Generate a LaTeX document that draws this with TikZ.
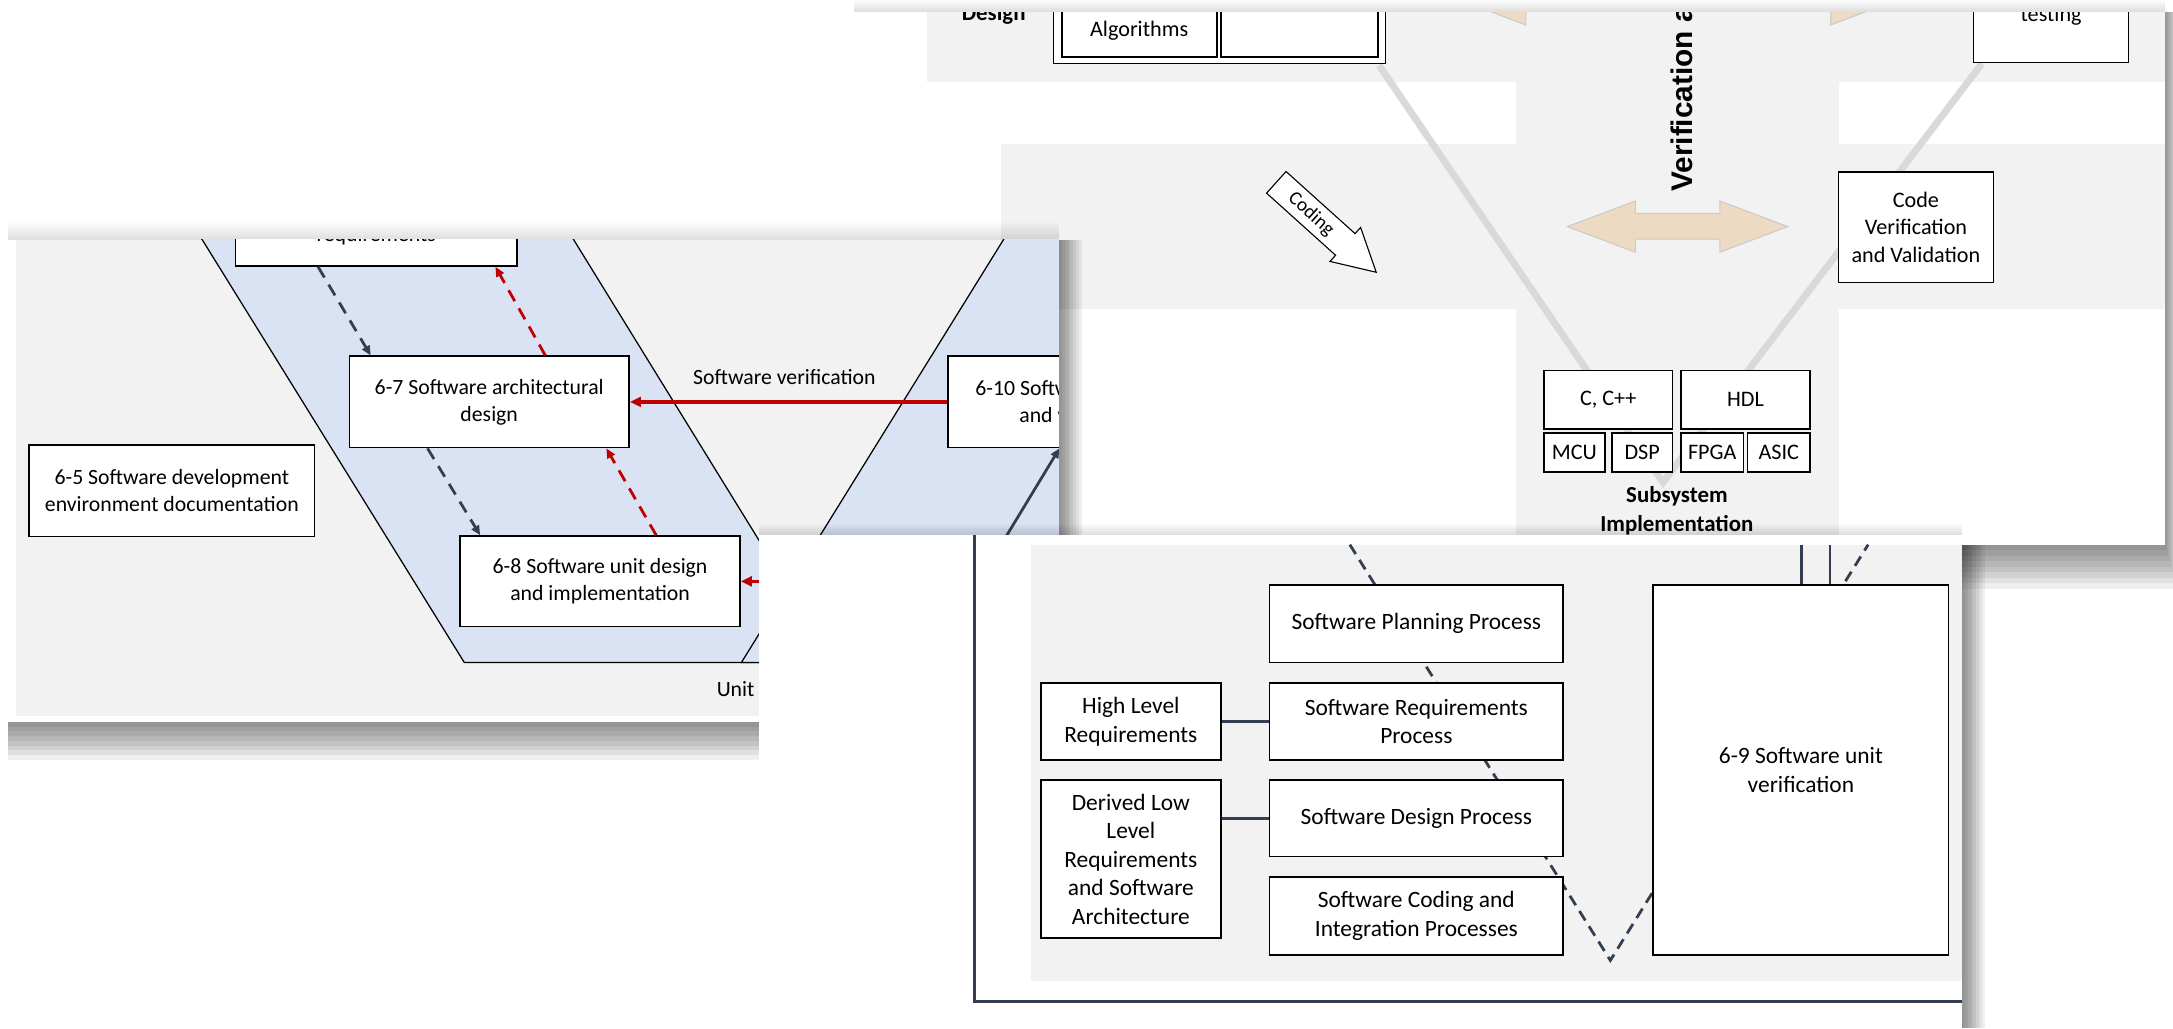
\documentclass[tikz,border=0pt]{standalone}
\usepackage{fontspec}
\setmainfont{Carlito}
\newfontfamily\arialfont{Liberation Sans}
\usetikzlibrary{arrows.meta,calc}
\definecolor{bandgray}{RGB}{242,242,242}
\definecolor{vgray}{RGB}{217,217,217}
\definecolor{vblue}{RGB}{218,227,243}
\definecolor{slate}{RGB}{51,63,80}
\definecolor{dred}{RGB}{192,0,0}
\definecolor{beige}{RGB}{236,218,194}
\definecolor{beigeln}{RGB}{204,204,204}
\tikzset{
  wbox/.style={draw=black, line width=1.1pt, fill=white, inner sep=0pt, align=center},
  wboxb/.style={draw=black, line width=1pt, fill=white, inner sep=0pt, align=center},
  wboxc/.style={draw=black, line width=1.3pt, fill=white, inner sep=0pt, align=center},
  fontA/.style={font=\fontsize{16}{19.8}\selectfont},
  fontB/.style={font=\fontsize{15.7}{19.5}\selectfont},
  fontC/.style={font=\fontsize{16.9}{20.5}\selectfont},
  darr/.style={slate, line width=2pt, dash pattern=on 9pt off 6pt, -{Triangle[length=7pt,width=6pt]}},
  rarr/.style={dred, line width=2pt, dash pattern=on 9pt off 6pt, -{Triangle[length=7pt,width=6pt]}},
  redline/.style={dred, line width=2.4pt, -{Triangle[length=8pt,width=7pt]}},
  slateline/.style={slate, line width=2pt, -{Triangle[length=7pt,width=6pt]}},
  band/.style={fill=bandgray, draw=none},
  vline/.style={vgray, line width=5pt},
  bigarrow/.style={fill=beige, draw=beigeln, line width=0.8pt},
  vband/.style={fill=vblue, draw=black, line width=0.9pt},
  conn/.style={slate, line width=2.6pt},
  frameln/.style={slate, line width=2.5pt},
  vdash/.style={slate, line width=2pt, dash pattern=on 8pt off 5pt},
  shadowlayer/.style={fill=black, opacity=0.062},
  faintlayer/.style={fill=black, opacity=0.015},
}
\begin{document}
\begin{tikzpicture}[x=1pt,y=-1pt]
\useasboundingbox (0,0) rectangle (1568,742);
\fill[white] (0,0) rectangle (1568,742);

% ================= Window 1 (top right) =================
\foreach \i in {1,...,8}{
  \fill[shadowlayer] (616,393) rectangle ({1562+1.25*\i},{393+4*\i});
  \fill[shadowlayer] (1562,9) rectangle ({1562+1.25*\i},393);
  \fill[faintlayer] (616,{9-1.1*\i}) rectangle (1562,9);
}
\begin{scope}
\clip (616,9) rectangle (1562,393);
\fill[white] (616,9) rectangle (1562,393);
\fill[band] (669,0) rectangle (1562,59);
\fill[band] (1094,0) rectangle (1327,393);
\fill[band] (722,104) rectangle (1562,223);
% beige double arrows
\path[bigarrow] (1052,-0.5) -- (1101,-19) -- (1101,-9) -- (1321,-9) -- (1321,-19) -- (1370,-0.5) -- (1321,18) -- (1321,8) -- (1101,8) -- (1101,18) -- cycle;
\path[bigarrow] (1131,163.5) -- (1180,145) -- (1180,154) -- (1241,154) -- (1241,145) -- (1290,163.5) -- (1241,182) -- (1241,172.5) -- (1180,172.5) -- (1180,182) -- cycle;
% gray V
\coordinate (vl) at (995,47);
\coordinate (vt) at (1200,348);
\coordinate (vr) at (1430,46);
\draw[vline] (vl) -- (vt) -- (vr);
% vertical title
\node[rotate=90, anchor=base west, inner sep=0pt, font=\arialfont\bfseries\fontsize{21.5}{24}\selectfont] (vtext) at (1221,138.5) {Verification and Validation};
% Design label and algorithms group
\node[anchor=base, inner sep=0pt, font=\fontsize{16.5}{20}\selectfont\bfseries] (design) at (717,15) {Design};
\draw[black, line width=0.8pt, fill=white] (760,-20) rectangle (1000,46);
\node[wbox, line width=1.4pt, minimum width=112pt, minimum height=81pt] (algbox) at (822,0.5) {};
\node[wbox, line width=1.4pt, minimum width=113pt, minimum height=81pt] (algbox2) at (937.5,0.5) {};
\node[fontA, inner sep=0pt] (algtxt) at (822,22) {Algorithms};
% testing box
\node[wbox, minimum width=112pt, minimum height=85pt] (testbox) at (1480,2.5) {};
\node[fontA, anchor=base, inner sep=0pt] (testtxt) at (1480,15.5) {testing};
% Coding arrow
\begin{scope}[shift={(957,164)}, rotate=-42]
\draw[fill=white, line width=0.8pt] (-48.5,-10.5) -- (18.5,-10.5) -- (18.5,-16.5) -- (48.5,0) -- (18.5,16.5) -- (18.5,10.5) -- (-48.5,10.5) -- cycle;
\end{scope}
\node[rotate=-42, inner sep=0pt, font=\fontsize{14}{16}\selectfont] (codingtxt) at (946,154.6) {Coding};
% Code verification
\node[wbox, fontA, minimum width=112pt, minimum height=80pt] (cvv) at (1382.5,164) {Code\\Verification\\and Validation};
% implementation boxes
\node[wbox, fontA, minimum width=93pt, minimum height=42pt] (cpp) at (1160.5,288.5) {C, C++};
\node[wbox, fontA, minimum width=93pt, minimum height=42pt] (hdl) at (1259.5,288.5) {HDL};
\node[wbox, fontA, minimum width=44pt, minimum height=28pt] (mcu) at (1136,326.5) {MCU};
\node[wbox, fontA, minimum width=44pt, minimum height=28pt] (dsp) at (1185,326.5) {DSP};
\node[wbox, fontA, minimum width=45pt, minimum height=28pt] (fpga) at (1235.5,326.5) {FPGA};
\node[wbox, fontA, minimum width=45pt, minimum height=28pt] (asic) at (1283.5,326.5) {ASIC};
\node[align=center, font=\fontsize{16.5}{21}\selectfont\bfseries] (subsys) at (1210,368.5) {Subsystem\\Implementation};
\end{scope}

% ================= Window 2 (left) =================
\foreach \i in {1,...,8}{
  \fill[shadowlayer] (6,521) rectangle ({764+2.1*\i},{521+3.4*\i});
  \fill[shadowlayer] (764,173) rectangle ({764+2.1*\i},521);
  \fill[faintlayer] (6,{173-1.5*\i}) rectangle (764,173);
}
\fill[white] (6,173) rectangle (764,521);
\begin{scope}
\clip (11.5,173) rectangle (764,517);
\fill[bandgray] (11.5,173) rectangle (764,517);
\draw[vband] (131.7,150) -- (399.8,150) -- (602,478) -- (335,478) -- cycle;
\draw[vband] (738.3,150) -- (1006,150) -- (803,478) -- (535,478) -- cycle;
\node[wboxb, minimum width=203pt, minimum height=72pt] (reqbox) at (271.5,156) {};
\node[fontB, anchor=base, inner sep=0pt] (reqtxt) at (271.5,174.5) {requirements};
\node[wboxb, fontB, minimum width=202pt, minimum height=66pt] (a67) at (353,290) {6-7 Software architectural\\design};
\node[wboxb, fontB, minimum width=202pt, minimum height=65.5pt] (a68) at (433,419.5) {6-8 Software unit design\\and implementation};
\node[wboxb, fontB, minimum width=206pt, minimum height=66pt] (a65) at (124,354) {6-5 Software development\\environment documentation};
\node[wboxb, fontB, minimum width=202pt, minimum height=66pt] (a610) at (785,290) {6-10 Software integration\\and verification};
\node[fontB] (swv) at (566,272) {Software verification};
\node[fontB, anchor=west, inner sep=0pt] (unit) at (517,497) {Unit};
% arrows
\draw[darr] ($(reqbox.south west)+(60,0)$) -- ($(a67.north west)+(16,0)$);
\draw[rarr] ($(a67.north west)+(142,0)$) -- ($(reqbox.south west)+(188,0)$);
\draw[darr] ($(a67.south west)+(57,0)$) -- ($(a68.north west)+(15,0)$);
\draw[rarr] ($(a68.north west)+(142,0)$) -- ($(a67.south west)+(186,0)$);
\draw[redline] (a610.west) -- (a67.east);
\coordinate (redsrc) at (600,419.5);
\draw[redline] (redsrc) -- (a68.east);
\coordinate (slsrc) at (700,430);
\draw[slateline] (slsrc) -- ($(a610.south west)+(81,0)$);
\end{scope}

% ================= Window 3 (bottom) =================
\foreach \i in {1,...,8}{
  \fill[shadowlayer] (1416,393) rectangle ({1416+2*\i},742);
  \fill[faintlayer] (548,{386-1*\i}) rectangle (1416,386);
}
\fill[white] (548,386) rectangle (1416,742);
\coordinate (fr1) at (703,386);
\coordinate (fr2) at (703,722.5);
\coordinate (fr3) at (1416,722.5);
\draw[frameln] (fr1) -- (fr2) -- (fr3);
\fill[bandgray] (744,393) rectangle (1416,708);
\begin{scope}
\clip (744,393) rectangle (1416,708);
\coordinate (v3a) at (974,393);
\coordinate (v3b) at (1162,693);
\coordinate (v3c) at (1348,393);
\draw[vdash] (v3a) -- (v3b) -- (v3c);
\node[wboxc, fontC, minimum width=212pt, minimum height=56pt] (spp) at (1022,450) {Software Planning Process};
\node[wboxc, fontC, minimum width=212pt, minimum height=55.5pt] (srp) at (1022,520.75) {Software Requirements\\Process};
\node[wboxc, fontC, minimum width=130pt, minimum height=55.5pt] (hlr) at (816,520.75) {High Level\\Requirements};
\node[wboxc, fontC, minimum width=130pt, minimum height=114pt] (dlr) at (816,620) {Derived Low\\Level\\Requirements\\and Software\\Architecture};
\node[wboxc, fontC, minimum width=212pt, minimum height=55pt] (sdp) at (1022,590.5) {Software Design Process};
\node[wboxc, fontC, minimum width=212pt, minimum height=56pt] (scip) at (1022,661) {Software Coding and\\Integration Processes};
\node[wboxc, fontC, minimum width=213pt, minimum height=267pt] (uv) at (1299.5,555.5) {6-9 Software unit\\verification};
\draw[conn] (hlr.east) -- (srp.west);
\draw[conn] (sdp.west -| dlr.east) -- (sdp.west);
\coordinate (t1) at (1300,393);
\coordinate (t2) at (1320.5,393);
\draw[slate, line width=2pt] (t1) -- (t1 |- uv.north);
\draw[slate, line width=2pt] (t2) -- (t2 |- uv.north);
\end{scope}
\end{tikzpicture}
\end{document}
